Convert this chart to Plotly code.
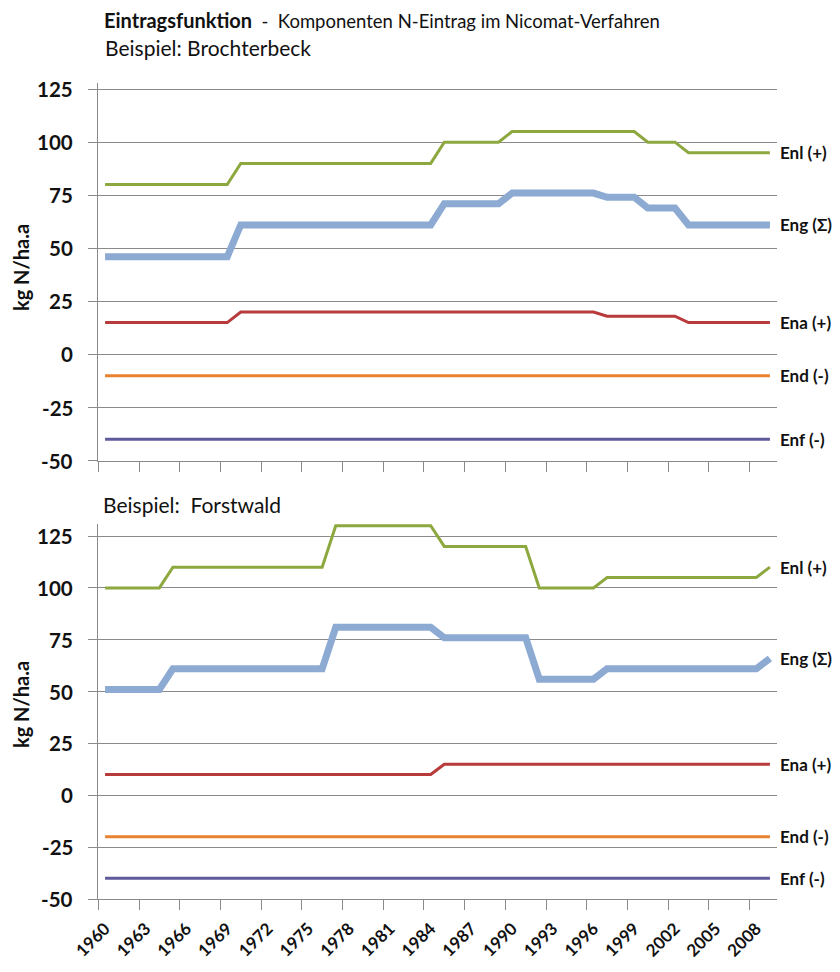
import plotly.graph_objects as go

years = list(range(1960, 2010))

# Beispiel: Brochterbeck (top)
enl_top = [80]*10 + [90]*15 + [100]*5 + [105]*10 + [100]*3 + [95]*7
eng_top = [46]*10 + [61]*15 + [71]*5 + [76]*7 + [74]*3 + [69]*3 + [61]*7
ena_top = [15]*10 + [20]*27 + [18]*6 + [15]*7
end_top = [-10]*50
enf_top = [-40]*50

# Beispiel: Forstwald (bottom)
enl_bot = [100]*5 + [110]*12 + [130]*8 + [120]*7 + [100]*5 + [105]*12 + [110]*1
eng_bot = [51]*5 + [61]*12 + [81]*8 + [76]*7 + [56]*5 + [61]*12 + [66]*1
ena_bot = [10]*25 + [15]*25
end_bot = [-20]*50
enf_bot = [-40]*50

series_names = ["Enl (+)", "Eng (Σ)", "Ena (+)", "End (-)", "Enf (-)"]
colors = ["#8DA83F", "#8DAAD3", "#B83A3B", "#E8822E", "#5F5A9C"]
widths = [3, 7, 3, 3, 3]

y_ticks = [-50, -25, 0, 25, 50, 75, 100, 125]
y_ticktext = ["-50", "-25", "0", "25", "50", "75", "100", "125"]
x_labels = list(range(1960, 2009, 3))

FONT = "Lato"
OFF = 8  # page body margin
W, H = 832, 964


def px(x):
    return (x - OFF) / W


def py(y):
    return 1 - (y - OFF) / H


fig = go.Figure()

top = [enl_top, eng_top, ena_top, end_top, enf_top]
bot = [enl_bot, eng_bot, ena_bot, end_bot, enf_bot]

for vals, ax in ((top, ("x", "y")), (bot, ("x2", "y2"))):
    for name, v, c, w in zip(series_names, vals, colors, widths):
        fig.add_trace(go.Scatter(x=years, y=v, mode="lines", name=name,
                                 line=dict(color=c, width=w),
                                 xaxis=ax[0], yaxis=ax[1], showlegend=False,
                                 hoverinfo="skip"))
    for name, v in zip(series_names, vals):
        fig.add_annotation(x=2009.5, y=v[-1], xref=ax[0], yref=ax[1],
                           text=name, showarrow=False, xanchor="left",
                           yanchor="middle", xshift=1,
                           font=dict(family=FONT, size=17, color="#111111", weight="bold"))
    # y tick labels
    for tv, tt in zip(y_ticks, y_ticktext):
        fig.add_annotation(x=px(74), y=tv, xref="paper", yref=ax[1],
                           text=tt, showarrow=False, xanchor="right",
                           yanchor="middle", borderpad=0,
                           font=dict(family=FONT, size=20.5, color="#111111", weight="bold"))

top_dom = [py(460.6), py(82.7)]
bot_dom = [py(899), py(523.6)]

common_x = dict(range=[1959.5, 2009.5], domain=[px(98.3), px(776.7)], showgrid=False,
                showline=True, linecolor="#8a8a8a", linewidth=1,
                ticks="", tickmode="array", tickvals=x_labels,
                ticktext=[str(v) for v in x_labels], automargin=False,
                minor=dict(tick0=1959.5, dtick=3, ticks="outside", ticklen=10,
                           tickcolor="#8a8a8a", showgrid=False),
                zeroline=False)
common_y = dict(tickmode="array", tickvals=y_ticks, showticklabels=False,
                showgrid=True, gridcolor="#8a8a8a", gridwidth=1,
                showline=True, linecolor="#8a8a8a", linewidth=1,
                ticks="outside", ticklen=9, tickcolor="#8a8a8a",
                zeroline=False, automargin=False)

fig.update_layout(
    width=W, height=H, margin=dict(l=0, r=0, t=0, b=0),
    paper_bgcolor="white", plot_bgcolor="white",
    xaxis=dict(**common_x, anchor="y", showticklabels=False),
    yaxis=dict(**common_y, range=[-50, 128], domain=top_dom, anchor="x"),
    xaxis2=dict(**common_x, anchor="y2", tickangle=-45, ticklabelstandoff=12,
                tickfont=dict(family=FONT, size=17, color="#111111", weight="bold")),
    yaxis2=dict(**common_y, range=[-50, 131], domain=bot_dom, anchor="x2"),
)

# titles
fig.add_annotation(x=px(103), y=py(20), xref="paper", yref="paper",
                   xanchor="left", yanchor="middle", showarrow=False, borderpad=0,
                   text="<b style='font-size:20px'>Eintragsfunktion</b>&nbsp; - &nbsp;Komponenten N-Eintrag im Nicomat-Verfahren",
                   font=dict(family=FONT, size=18.5, color="#111111"))
fig.add_annotation(x=px(103), y=py(48), xref="paper", yref="paper",
                   xanchor="left", yanchor="middle", showarrow=False,
                   text="Beispiel: Brochterbeck",
                   font=dict(family=FONT, size=21, color="#111111"))
fig.add_annotation(x=px(101), y=py(505), xref="paper", yref="paper",
                   xanchor="left", yanchor="middle", showarrow=False,
                   text="Beispiel:&nbsp; Forstwald",
                   font=dict(family=FONT, size=21, color="#111111"))

# y-axis titles
for yc in (268, 705):
    fig.add_annotation(x=px(21), y=py(yc), xref="paper", yref="paper",
                       xanchor="center", yanchor="middle", showarrow=False,
                       text="kg N/ha.a", textangle=-90, borderpad=0,
                       font=dict(family=FONT, size=20, color="#111111", weight="bold"))

fig.write_html("out.html")
